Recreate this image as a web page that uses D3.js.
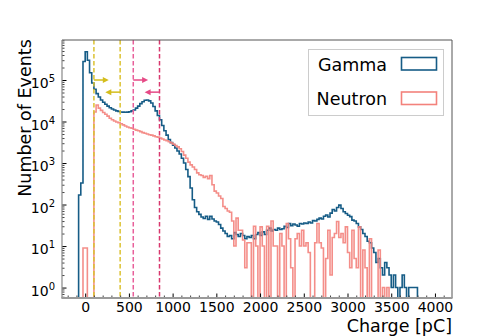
<!DOCTYPE html>
<html>
<head>
<meta charset="utf-8">
<script src="https://cdn.jsdelivr.net/npm/d3@7"></script>
<style>
  body { margin: 0; background: #fff; }
  text { font-family: "DejaVu Sans", sans-serif; fill: #000; }
</style>
</head>
<body>
<script>
// histogram bins: 25 pC wide, first left edge at -75 pC
const binStart = -75;
const binWidth = 25;

// counts per bin (gamma source)
const gamma = [
  170, 330, 280000, 480000, 300000, 150000, 85000, 60000, 47000, 39000,
  33000, 29000, 26000, 23500, 21500, 20000, 19000, 18000, 17500, 17000,
  16800, 16700, 16800, 17200, 18000, 19000, 21000, 23500, 27000, 30000,
  32500, 33000, 31500, 28000, 23000, 18000, 14000, 11000, 8000, 6000,
  4700, 3700, 3100, 2700, 2300, 1950, 1650, 1300, 1000, 700,
  470, 250, 130, 85, 67, 58, 50, 46, 52, 44,
  52, 45, 40, 38, 33, 27, 23, 20, 17, 18,
  15, 21, 19, 17, 20, 18, 15, 17, 16, 18,
  15, 19, 21, 18, 22, 19, 24, 27, 23, 25,
  24, 27, 25, 26, 30, 28, 35, 31, 34, 32,
  30, 35, 34, 36, 35, 38, 36, 41, 40, 44,
  47, 45, 52, 56, 50, 62, 76, 70, 85, 97,
  80, 67, 61, 55, 51, 42, 40, 35, 29, 25,
  20, 17, 13, 12, 9, 7, 4, 5, 3, 2,
  4, 3, 2, 1, 2, 1, 0, 1, 2, 1,
  0, 1, 1, 1, 1, 0, 0, 0, 0
];

// counts per bin (neutron source)
const neutron = [
  0, 0, 9, 9, 0, 0, 0, 17000, 25000, 21000,
  18500, 16500, 15000, 13500, 12000, 11000, 10300, 9700, 9300, 8800,
  8300, 7800, 7400, 7100, 6900, 6500, 6200, 6000, 5700, 5400,
  5200, 5000, 4800, 4700, 4500, 4300, 4200, 4000, 3800, 3600,
  3450, 3250, 3050, 2850, 2650, 2450, 2200, 1900, 1550, 1300,
  1050, 900, 800, 700, 580, 520, 500, 450, 480, 420,
  500, 300, 210, 190, 160, 140, 90, 80, 70, 65,
  40, 10, 47, 24, 24, 14, 3, 12, 12, 0,
  30, 10, 0, 29, 10, 0, 30, 0, 40, 10,
  10, 0, 20, 10, 0, 35, 15, 3, 0, 15,
  20, 10, 24, 10, 12, 7, 0, 0, 12, 35,
  12, 9, 0, 5, 24, 2, 16, 20, 39, 16,
  20, 12, 29, 7, 3, 24, 5, 3, 29, 0,
  8, 3, 0, 15, 0, 0, 0, 8, 0, 1,
  0, 1, 0, 0, 0, 0, 0, 0, 0, 0,
  0, 0, 0, 0, 0, 0, 0, 0, 0
];

// selection windows [pC]
const gammaCuts = [100, 400];
const neutronCuts = [550, 850];

const xTicks = [0, 500, 1000, 1500, 2000, 2500, 3000, 3500, 4000];
const yTicks = [1, 10, 100, 1000, 10000, 100000];

const dims = { width: 503, height: 336 };
const plot = { left: 62, right: 452, top: 40, bottom: 298 };

const svg = d3.select("body").append("svg")
    .attr("width", dims.width)
    .attr("height", dims.height);

const x = d3.scaleLinear().domain([-265, 4195]).range([plot.left, plot.right]);
const y = d3.scaleLog().domain([0.56, 9.2e5]).range([plot.bottom, plot.top]);

svg.append("clipPath").attr("id", "clip")
  .append("rect")
    .attr("x", plot.left).attr("y", plot.top)
    .attr("width", plot.right - plot.left).attr("height", plot.bottom - plot.top);

// step outline like matplotlib histtype='step'
function stepPoints(counts) {
  const pts = [];
  const lowVal = 1e-3;
  pts.push([binStart, lowVal]);
  counts.forEach((c, i) => {
    const v = c > 0 ? c : lowVal;
    pts.push([binStart + i * binWidth, v]);
    pts.push([binStart + (i + 1) * binWidth, v]);
  });
  pts.push([binStart + counts.length * binWidth, lowVal]);
  return pts;
}

const line = d3.line()
    .x(d => x(d[0]))
    .y(d => Math.min(y(d[1]), plot.bottom + 20));

const g = svg.append("g").attr("clip-path", "url(#clip)");

g.append("path")
    .attr("d", line(stepPoints(gamma)))
    .attr("fill", "none")
    .attr("stroke", "#165c86")
    .attr("stroke-width", 1.6)
    .attr("stroke-linejoin", "miter");

g.append("path")
    .attr("d", line(stepPoints(neutron)))
    .attr("fill", "none")
    .attr("stroke", "#f3827c")
    .attr("stroke-width", 1.6)
    .attr("stroke-opacity", 0.9);

// cut lines
const cutLines = [
  { v: gammaCuts[0], c: "#dcc232" },
  { v: gammaCuts[1], c: "#dcc232" },
  { v: neutronCuts[0], c: "#e8609a" },
  { v: neutronCuts[1], c: "#d8386e" }
];
g.selectAll(".cut").data(cutLines).enter()
  .append("line")
    .attr("x1", d => x(d.v)).attr("x2", d => x(d.v))
    .attr("y1", plot.top).attr("y2", plot.bottom)
    .attr("stroke", d => d.c)
    .attr("stroke-width", 1.5)
    .attr("stroke-dasharray", "4.5,2.5");

// arrows
const arrows = [
  { from: gammaCuts[0], to: gammaCuts[0] + 170, yv: 1e5, c: "#d4bd1c" },
  { from: gammaCuts[1], to: gammaCuts[1] - 170, yv: 5.1e4, c: "#d4bd1c" },
  { from: neutronCuts[0], to: neutronCuts[0] + 170, yv: 1e5, c: "#e64a86" },
  { from: neutronCuts[1], to: neutronCuts[1] - 170, yv: 5.1e4, c: "#e64a86" }
];
arrows.forEach(a => {
  const x0 = x(a.from), x1 = x(a.to), yy = y(a.yv);
  const dir = Math.sign(x1 - x0);
  svg.append("line")
    .attr("x1", x0).attr("x2", x1 - dir * 4)
    .attr("y1", yy).attr("y2", yy)
    .attr("stroke", a.c).attr("stroke-width", 1.5);
  svg.append("path")
    .attr("d", `M${x1},${yy} L${x1 - dir * 6},${yy - 3} L${x1 - dir * 6},${yy + 3} Z`)
    .attr("fill", a.c);
});

// axes
const xMinor = d3.range(-200, 4200, 100).filter(v => v % 500 !== 0);
svg.append("g")
    .attr("transform", `translate(0,${plot.bottom})`)
    .call(d3.axisBottom(x).tickValues(xMinor).tickSize(-2.5).tickFormat(""))
    .call(ax => ax.select(".domain").remove())
    .call(ax => ax.selectAll("line").attr("stroke", "#444"));

svg.append("g")
    .attr("transform", `translate(0,${plot.bottom})`)
    .call(d3.axisBottom(x).tickValues(xTicks).tickSize(-4.5).tickPadding(4).tickFormat(d3.format("d")))
    .call(ax => ax.select(".domain").remove())
    .call(ax => ax.selectAll("line").attr("stroke", "#000"))
    .call(ax => ax.selectAll("text").attr("font-size", 14).attr("font-family", "DejaVu Sans"));

const yMinor = [];
for (let e = -1; e <= 5; e++) {
  for (let m = 2; m <= 9; m++) {
    const v = m * Math.pow(10, e);
    if (v > 0.56 && v < 9.2e5) yMinor.push(v);
  }
}
svg.append("g")
    .attr("transform", `translate(${plot.left},0)`)
    .call(d3.axisLeft(y).tickValues(yMinor).tickSize(-2.5).tickFormat(""))
    .call(ax => ax.select(".domain").remove())
    .call(ax => ax.selectAll("line").attr("stroke", "#444"));

const yAx = svg.append("g")
    .attr("transform", `translate(${plot.left},0)`)
    .call(d3.axisLeft(y).tickValues(yTicks).tickSize(-4.5).tickPadding(7).tickFormat(""))
    .call(ax => ax.select(".domain").remove())
    .call(ax => ax.selectAll("line").attr("stroke", "#000"));

yAx.selectAll(".tick text")
    .attr("font-size", 14)
    .attr("font-family", "DejaVu Sans")
    .each(function(d) {
      const t = d3.select(this);
      t.append("tspan").text("10");
      t.append("tspan").attr("dy", -6).attr("font-size", 10)
        .text(Math.round(Math.log10(d)));
    })
    .attr("dy", "0.55em");

// spines
svg.append("line").attr("x1", plot.left).attr("x2", plot.right)
  .attr("y1", plot.top).attr("y2", plot.top).attr("stroke", "#555").attr("stroke-width", 1);
svg.append("line").attr("x1", plot.right).attr("x2", plot.right)
  .attr("y1", plot.top).attr("y2", plot.bottom).attr("stroke", "#555").attr("stroke-width", 1);
svg.append("line").attr("x1", plot.left).attr("x2", plot.left)
  .attr("y1", plot.top).attr("y2", plot.bottom).attr("stroke", "#888").attr("stroke-width", 1.2);
svg.append("line").attr("x1", plot.left - 0.6).attr("x2", plot.right + 0.5)
  .attr("y1", plot.bottom).attr("y2", plot.bottom).attr("stroke", "#9a9a9a").attr("stroke-width", 2);

// axis labels
svg.append("text")
    .attr("x", plot.right).attr("y", 331.5)
    .attr("text-anchor", "end")
    .attr("font-size", 17.5)
    .text("Charge [pC]");

svg.append("text")
    .attr("transform", "translate(31,118) rotate(-90)")
    .attr("text-anchor", "middle")
    .attr("font-size", 17.5)
    .text("Number of Events");

// legend (labels first, handles on the right)
const legend = svg.append("g");
legend.append("rect")
    .attr("x", 308.5).attr("y", 49.5).attr("width", 135).attr("height", 66)
    .attr("fill", "#fff").attr("stroke", "#ccc").attr("stroke-width", 1);
const legItems = [
  { label: "Gamma", c: "#165c86", y: 70.5 },
  { label: "Neutron", c: "#f3827c", y: 105 }
];
legItems.forEach(it => {
  legend.append("text")
    .attr("x", 387).attr("y", it.y)
    .attr("text-anchor", "end")
    .attr("font-size", 17.5)
    .text(it.label);
  legend.append("rect")
    .attr("x", 401.5).attr("y", it.y - 13).attr("width", 35).attr("height", 12.5)
    .attr("fill", "none").attr("stroke", it.c).attr("stroke-width", 1.6);
});
</script>
</body>
</html>
